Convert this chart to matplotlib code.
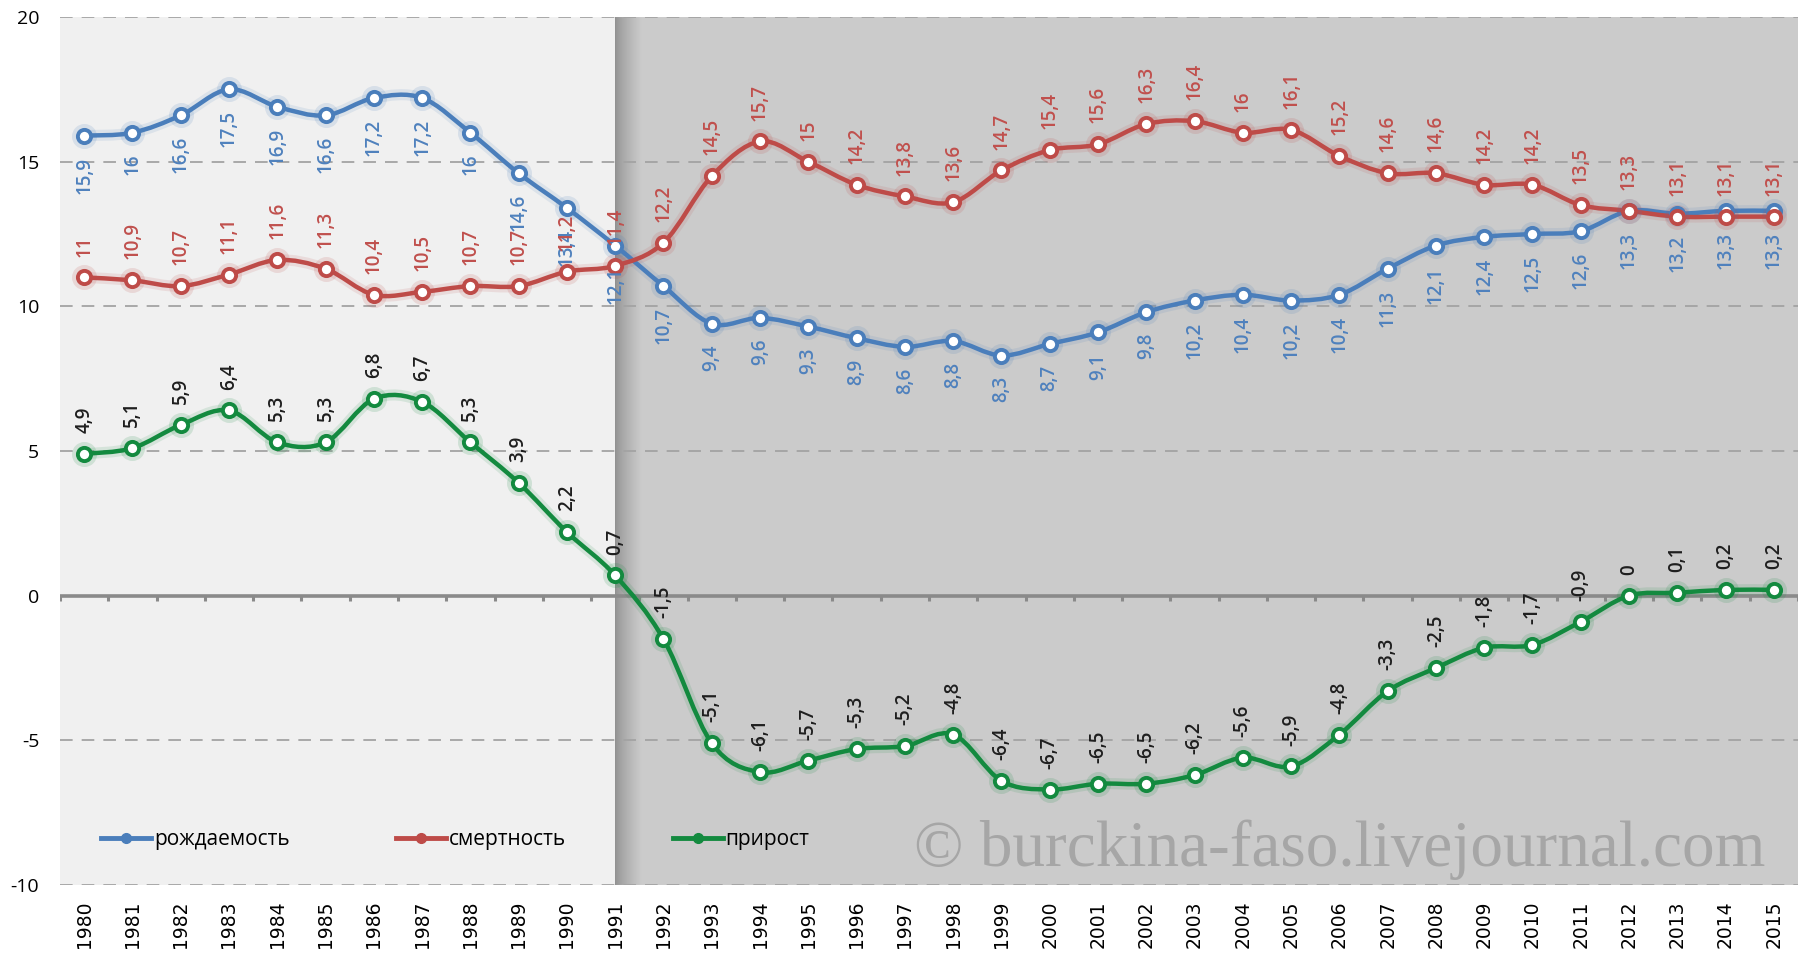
import matplotlib
matplotlib.use("Agg")
import matplotlib.pyplot as plt
from matplotlib.path import Path
from matplotlib.patches import PathPatch
from matplotlib.lines import Line2D
from matplotlib.colors import LinearSegmentedColormap
import numpy as np

years = list(range(1980, 2016))
birth = [15.9, 16, 16.6, 17.5, 16.9, 16.6, 17.2, 17.2, 16, 14.6, 13.4, 12.1,
         10.7, 9.4, 9.6, 9.3, 8.9, 8.6, 8.8, 8.3, 8.7, 9.1, 9.8, 10.2, 10.4,
         10.2, 10.4, 11.3, 12.1, 12.4, 12.5, 12.6, 13.3, 13.2, 13.3, 13.3]
death = [11, 10.9, 10.7, 11.1, 11.6, 11.3, 10.4, 10.5, 10.7, 10.7, 11.2, 11.4,
         12.2, 14.5, 15.7, 15, 14.2, 13.8, 13.6, 14.7, 15.4, 15.6, 16.3, 16.4,
         16, 16.1, 15.2, 14.6, 14.6, 14.2, 14.2, 13.5, 13.3, 13.1, 13.1, 13.1]
growth = [4.9, 5.1, 5.9, 6.4, 5.3, 5.3, 6.8, 6.7, 5.3, 3.9, 2.2, 0.7, -1.5,
          -5.1, -6.1, -5.7, -5.3, -5.2, -4.8, -6.4, -6.7, -6.5, -6.5, -6.2,
          -5.6, -5.9, -4.8, -3.3, -2.5, -1.8, -1.7, -0.9, 0, 0.1, 0.2, 0.2]
names = ["рождаемость", "смертность", "прирост"]
yticks = [-10, -5, 0, 5, 10, 15, 20]
watermark = "© burckina-faso.livejournal.com"

c_blue, c_red, c_green = "#4a7ebb", "#be4b48", "#138a3f"
lab_blue, lab_red, lab_green = "#4f81bd", "#c0504d", "#1e1e1e"

LABFONT = ["Open Sans", "DejaVu Sans"]

fig = plt.figure(figsize=(18.06, 9.59), dpi=100)
fig.patch.set_facecolor("white")
ax = fig.add_axes([60 / 1806, 74 / 959, 1738 / 1806, 868 / 959])
ax.set_facecolor("#f0f0f0")
x = np.arange(len(years))

# gray region after 1991
i91 = years.index(1991)
ax.axvspan(i91, len(years) - 0.5, color="#cbcbcb", zorder=0.1, lw=0)
grad = np.linspace(0, 1, 64).reshape(1, -1) ** 0.7
cm = LinearSegmentedColormap.from_list("sh", ["#8f8f8f", "#cbcbcb"])
ax.imshow(grad, extent=(i91, i91 + 0.55, -10, 20), aspect="auto", cmap=cm,
          zorder=0.2, interpolation="bilinear")
ax.set_xlim(-0.5, len(years) - 0.5)
ax.set_ylim(-10, 20)

# grid
for yv in yticks:
    if yv != 0:
        ax.axhline(yv, color="#a3a3a3", lw=1.3, ls=(0, (7, 5)), zorder=0.5)
# zero axis
ax.axhline(0, color="#8a8a8a", lw=2.6, zorder=0.6)
ax.vlines(np.arange(len(years) + 1) - 0.5, -0.2, 0, color="#8a8a8a", lw=2.2, zorder=0.6)

for s in ax.spines.values():
    s.set_visible(False)

ax.set_yticks(yticks)
ax.set_yticklabels([str(v) for v in yticks], family=LABFONT, fontsize=14)
ax.tick_params(axis="y", length=0, pad=15)
ax.set_xticks(x)
ax.set_xticklabels([str(y) for y in years], rotation=90, family="DejaVu Sans", fontsize=13.5)
ax.tick_params(axis="x", length=0, pad=11)


def smooth_path(xs, ys):
    pts = np.column_stack([xs, ys]).astype(float)
    n = len(pts)
    verts = [pts[0]]
    codes = [Path.MOVETO]
    for i in range(n - 1):
        p0 = pts[max(i - 1, 0)]
        p1 = pts[i]
        p2 = pts[i + 1]
        p3 = pts[min(i + 2, n - 1)]
        c1 = p1 + (p2 - p0) / 6.0
        c2 = p2 - (p3 - p1) / 6.0
        verts += [c1, c2, p2]
        codes += [Path.CURVE4] * 3
    return Path(verts, codes)


def fmt(v):
    return ("%g" % v).replace(".", ",")


series = [(birth, c_blue, lab_blue, -1), (death, c_red, lab_red, 1), (growth, c_green, lab_green, 1)]
for vals, col, lcol, side in series:
    p = smooth_path(x, vals)
    ax.add_patch(PathPatch(p, fill=False, edgecolor=col, lw=8, alpha=0.12, zorder=2))
    ax.add_patch(PathPatch(p, fill=False, edgecolor=col, lw=3.2, zorder=3, capstyle="round"))
    ax.plot(x, vals, "o", ms=14, mfc="none", mec=col, mew=4, alpha=0.15, zorder=3.5)
    ax.plot(x, vals, "o", ms=9.5, mfc="white", mec=col, mew=2.8, zorder=4)
    for xi, v in zip(x, vals):
        ax.annotate(fmt(v), (xi, v), xytext=(0, 15 * side), textcoords="offset points",
                    rotation=90, ha="center", va="bottom" if side > 0 else "top",
                    color=lcol, fontsize=13.5, fontweight="semibold", family=LABFONT, zorder=5)

handles = [Line2D([], [], color=c, lw=3.5, marker="o", ms=7, mfc=c, mec=c)
           for c in (c_blue, c_red, c_green)]
leg = ax.legend(handles, names, loc="center left",
                bbox_to_anchor=(41 / 1738, 45 / 868), ncol=3, frameon=False,
                prop={"family": LABFONT, "size": 15}, handlelength=2.4,
                handletextpad=0.15, columnspacing=5.1, borderpad=0, borderaxespad=0)
leg.set_zorder(6)

fig.text(914 / 1806, 1 - 866 / 959, watermark, family=["Liberation Serif", "DejaVu Serif"],
         fontsize=47, color="#a6a6a6", va="baseline", ha="left", zorder=1)

fig.savefig("out.png", dpi=100)
